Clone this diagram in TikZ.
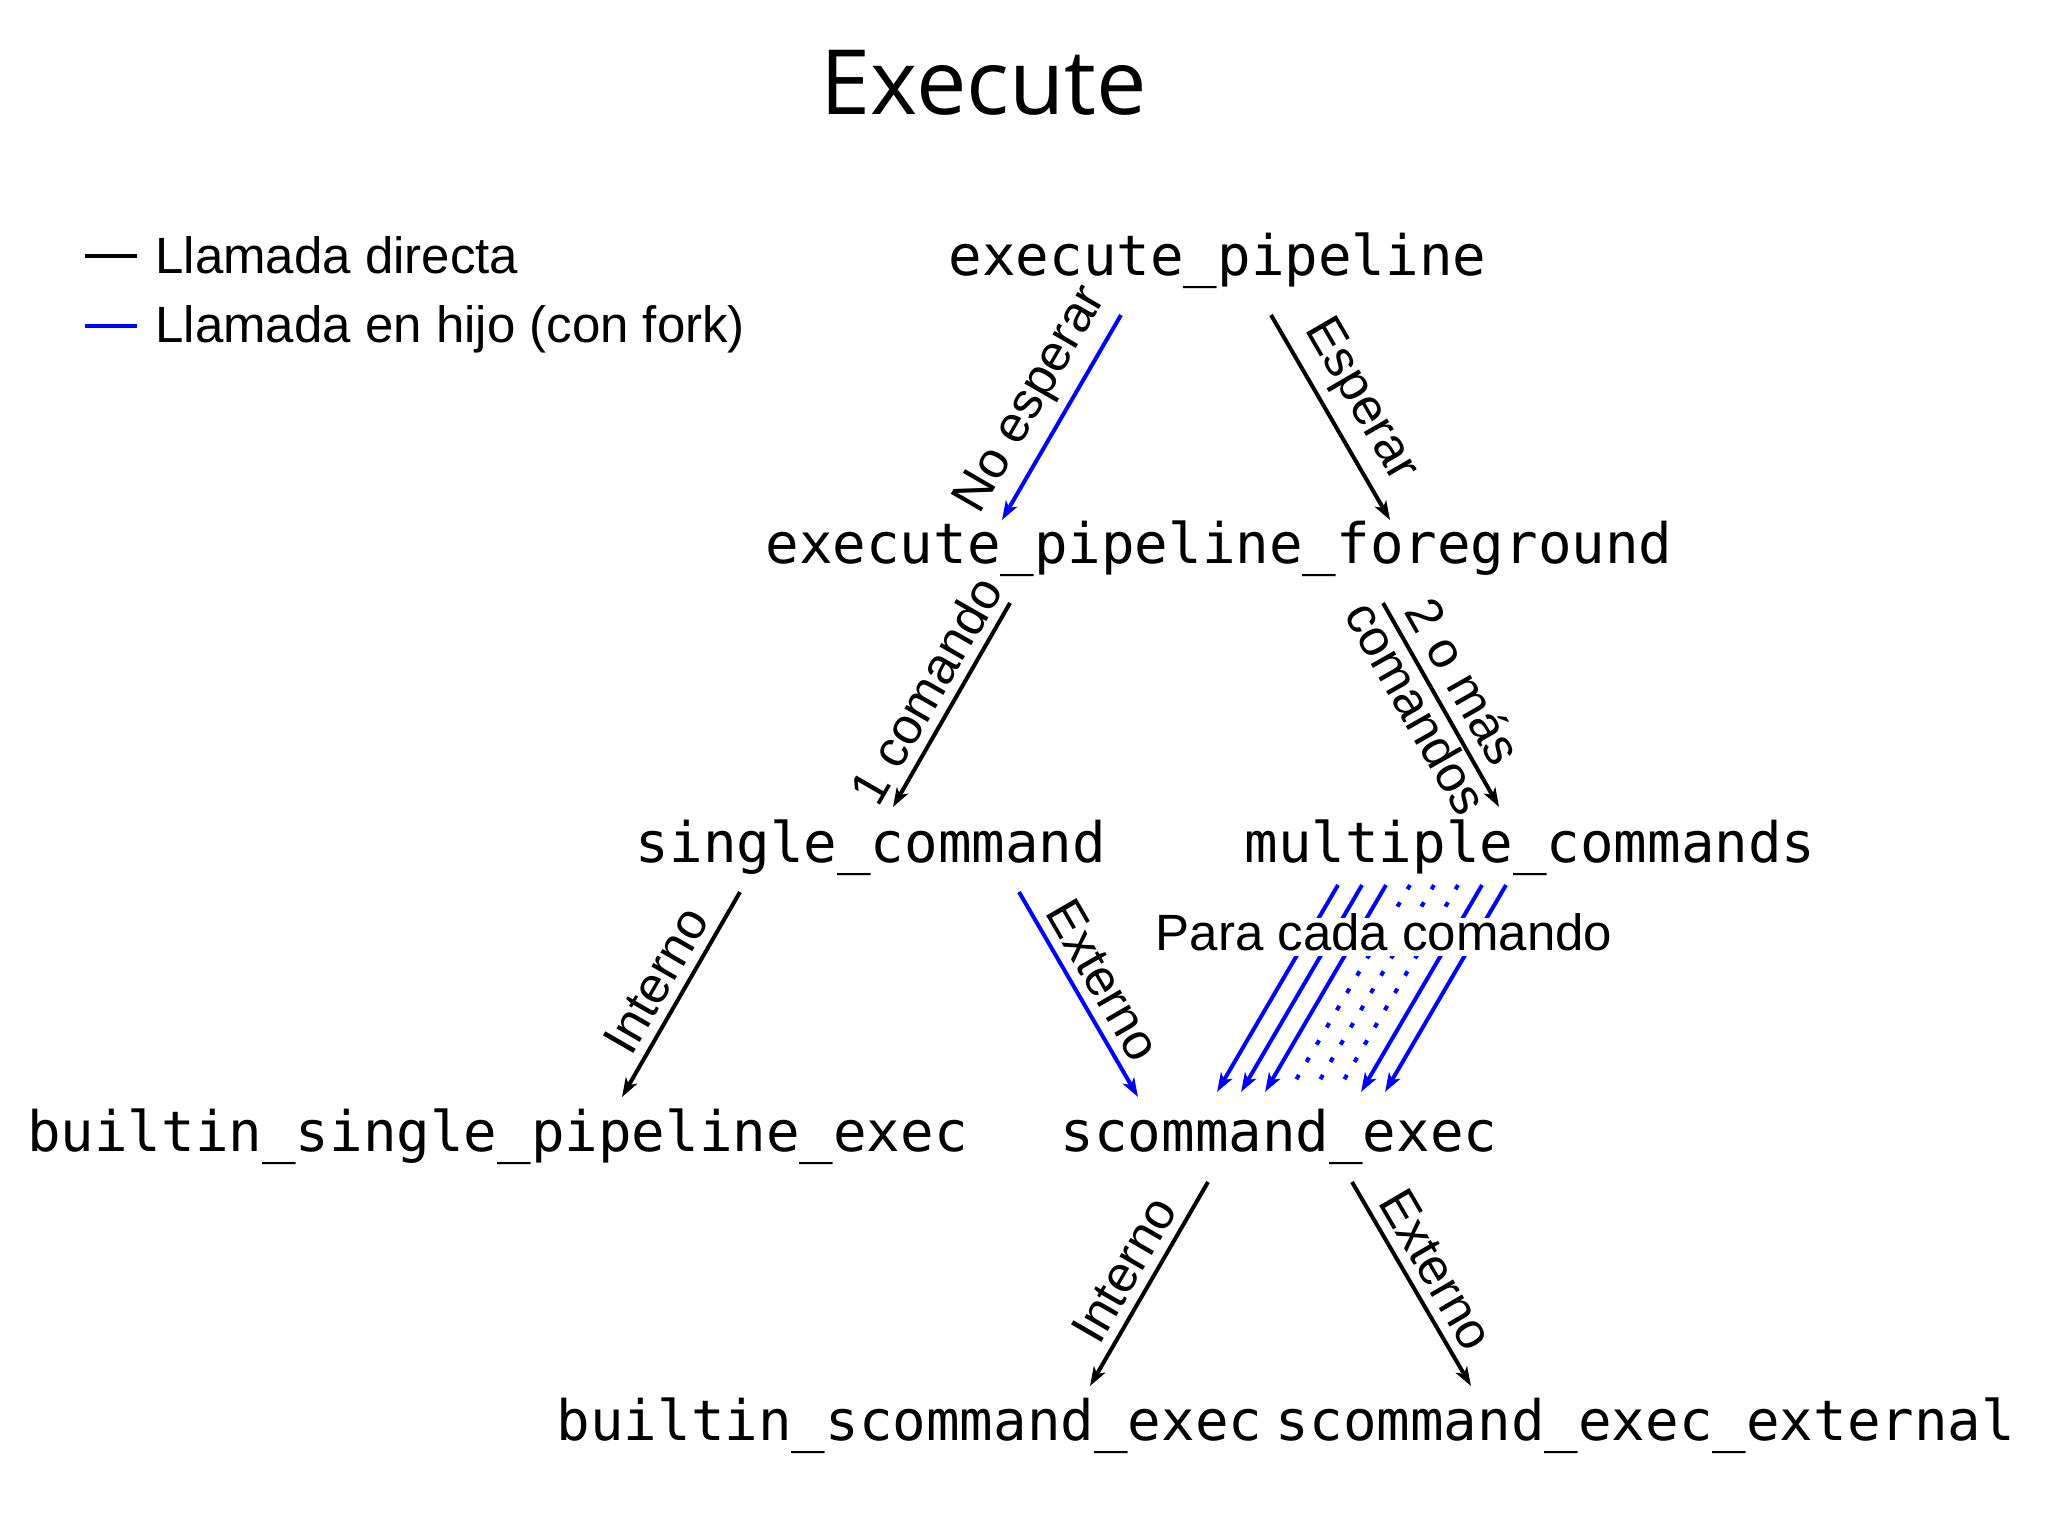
\documentclass[tikz,border=0pt]{standalone}
\usepackage{fontspec}
\setmainfont{Liberation Sans}
\newfontfamily\monof{DejaVu Sans Mono}
\newfontfamily\titlef{Open Sans}
\usetikzlibrary{arrows.meta,calc}
\begin{document}
\begin{tikzpicture}[x=0.5pt,y=-0.5pt,
  fn/.style={font=\monof\fontsize{27.9pt}{33pt}\selectfont, inner sep=0pt, anchor=base},
  lbl/.style={font=\fontsize{25.5pt}{30pt}\selectfont, inner sep=0pt, text=black},
  elbl/.style={lbl, sloped, above=4.5pt},
  conn/.style={line width=2pt, -{Stealth[length=9.5pt,width=6.5pt,inset=2.5pt]}},
  fork/.style={conn, color=blue},
  direct/.style={conn, color=black},
  dotl/.style={color=blue, line width=2pt, dash pattern=on 2.5pt off 7.5pt},
  ]
\useasboundingbox (0,0) rectangle (2048,1524);

% title
\node[font=\titlef\fontsize{45pt}{50pt}\selectfont, inner sep=0pt, anchor=base] (title) at (984,115) {Execute};

% legend
\node[lbl, anchor=base west] (leg1) at (155,274) {Llamada directa};
\node[lbl, anchor=base west] (leg2) at (155,343) {Llamada en hijo (con fork)};
\draw[line width=2pt] (85,256) -- (137,256);
\draw[blue, line width=2pt] (85,326) -- (137,326);

% function nodes
\node[fn] (ep)   at (1217.5,276) {execute\_pipeline};
\node[fn] (epf)  at (1219,563)   {execute\_pipeline\_foreground};
\node[fn] (sc)   at (871,862)    {single\_command};
\node[fn] (mc)   at (1530,862)   {multiple\_commands};
\node[fn] (bspe) at (497.5,1151) {builtin\_single\_pipeline\_exec};
\node[fn] (se)   at (1279,1151)  {scommand\_exec};
\node[fn] (bse)  at (909.5,1440) {builtin\_scommand\_exec};
\node[fn] (see)  at (1645.5,1440){scommand\_exec\_external};

% connectors
\draw[fork]   ($(ep.base)+(-96.5,39)$) -- node[elbl] (l1) {No esperar} ($(epf.base)+(-217,-43)$);
\draw[direct] ($(ep.base)+(53.5,39)$) -- node[elbl] (l2) {Esperar} ($(epf.base)+(171,-43)$);
\draw[direct] ($(epf.base)+(-209,40)$) -- node[elbl] (l3) {1 comando} ($(sc.base)+(22,-55)$);
\draw[direct] ($(epf.base)+(164,40)$) -- node[lbl, sloped, pos=0.46, yshift=2.5pt, align=center, font=\fontsize{25.5pt}{27pt}\selectfont] (l4) {2 o más\\comandos} ($(mc.base)+(-31,-55)$);
\draw[direct] ($(sc.base)+(-131,30)$) -- node[elbl] (l5) {Interno} ($(bspe.base)+(124.5,-54)$);
\draw[fork]   ($(sc.base)+(148,30)$) -- node[elbl] (l6) {Externo} ($(se.base)+(-141,-54)$);
\draw[direct] ($(se.base)+(-71,31)$) -- node[elbl] (l7) {Interno} ($(bse.base)+(180.5,-54)$);
\draw[direct] ($(se.base)+(73,31)$) -- node[elbl] (l8) {Externo} ($(see.base)+(-174.5,-54)$);

% for each command
\foreach \k in {0,1,2,6,7}
  \draw[fork] ($(mc.base)+(-192+24*\k,23)$) -- ($(se.base)+(-62+24*\k,-59)$);
\foreach \k in {3,4,5}
  \draw[dotl] ($(mc.base)+(-192+24*\k,23)$) -- ($(se.base)+(-58+24*\k,-66)$);
\node[lbl, fill=white, anchor=base, text height=16pt, text depth=3pt] (pcc) at (1384,950) {Para cada comando};
\end{tikzpicture}
\end{document}
